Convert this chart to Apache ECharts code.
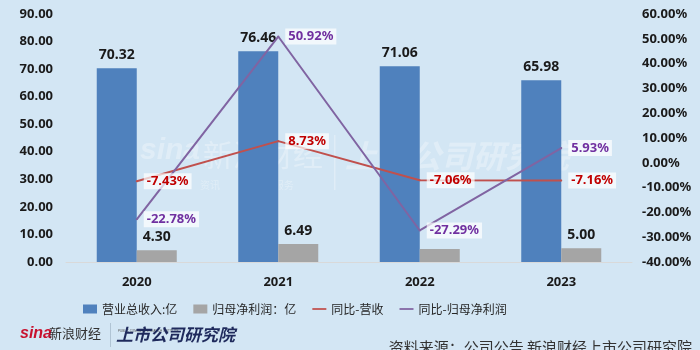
<!DOCTYPE html>
<html><head><meta charset="utf-8">
<script src="https://cdn.jsdelivr.net/npm/echarts@6/dist/echarts.min.js"></script>
<style>html,body{margin:0;padding:0;background:#d3e6f4;}#c{width:700px;height:350px;}</style>
</head><body><div id="c"></div>
<script>
const categories = ['2020', '2021', '2022', '2023'];
const revenue = [70.32, 76.46, 71.06, 65.98];
const netProfit = [4.30, 6.49, 4.72, 5.00];
const revenueYoY = [-7.43, 8.73, -7.06, -7.16];
const profitYoY = [-22.78, 50.92, -27.29, 5.93];
const seriesNames = ['营业总收入:亿', '归母净利润：亿', '同比-营收', '同比-归母净利润'];

const font = '"Noto Sans", "Liberation Sans", sans-serif';
const cjk = '"Noto Sans CJK SC", sans-serif';
const lblBox = {backgroundColor: 'rgba(255,255,255,0.7)', padding: [2, 3, 1, 3]};

const chart = echarts.init(document.getElementById('c'));
chart.setOption({
  backgroundColor: '#d3e6f4',
  animation: false,
  grid: {left: 66, right: 68, top: 14, bottom: 88},
  legend: {
    left: 78, top: 298, itemGap: 16, itemWidth: 14, itemHeight: 9,
    textStyle: {fontFamily: cjk, fontSize: 12, color: '#262626'},
    data: [
      {name: seriesNames[0], icon: 'rect'},
      {name: seriesNames[1], icon: 'rect'},
      {name: seriesNames[2], icon: 'path://M0,0h16v2h-16z'},
      {name: seriesNames[3], icon: 'path://M0,0h16v2h-16z'}
    ]
  },
  xAxis: {
    type: 'category', data: categories,
    axisLine: {lineStyle: {color: '#d9d9d9'}},
    axisTick: {show: false},
    axisLabel: {fontFamily: font, fontWeight: 'bold', fontSize: 13, color: '#1a1a1a', margin: 14}
  },
  yAxis: [
    {type: 'value', min: 0, max: 90, interval: 10,
     splitLine: {show: false}, axisLine: {show: false}, axisTick: {show: false},
     axisLabel: {fontFamily: font, fontWeight: 'bold', fontSize: 13, color: '#1a1a1a', margin: 13,
       formatter: v => v.toFixed(2)}},
    {type: 'value', min: -40, max: 60, interval: 10,
     splitLine: {show: false}, axisLine: {show: false}, axisTick: {show: false},
     axisLabel: {fontFamily: font, fontWeight: 'bold', fontSize: 13, color: '#1a1a1a', margin: 10,
       formatter: v => v.toFixed(2) + '%'}}
  ],
  series: [
    {name: seriesNames[0], type: 'bar', data: revenue, barWidth: 40, barGap: '0%',
     itemStyle: {color: '#4f81bd'},
     label: {show: true, position: 'top', fontFamily: font, fontWeight: 'bold', fontSize: 14, color: '#1a1a1a', distance: 6,
       formatter: p => p.value.toFixed(2)}},
    {name: seriesNames[1], type: 'bar', data: netProfit.map((v, i) => i === 2 ? {value: v, label: {show: false}} : v),
     barWidth: 40, itemStyle: {color: '#a5a5a5'},
     label: {show: true, position: 'top', fontFamily: font, fontWeight: 'bold', fontSize: 14, color: '#1a1a1a', distance: 6,
       formatter: p => p.value.toFixed(2)}},
    {name: seriesNames[2], type: 'line', yAxisIndex: 1, data: revenueYoY,
     symbol: 'circle', symbolSize: 2, lineStyle: {color: '#c0504d', width: 2}, itemStyle: {color: '#c0504d'},
     label: Object.assign({show: true, position: 'right', distance: 6, fontFamily: font, fontWeight: 'bold', fontSize: 13, color: '#c00000',
       formatter: p => p.value.toFixed(2) + '%'}, lblBox)},
    {name: seriesNames[3], type: 'line', yAxisIndex: 1, data: profitYoY,
     symbol: 'circle', symbolSize: 2, lineStyle: {color: '#8064a2', width: 2}, itemStyle: {color: '#8064a2'},
     label: Object.assign({show: true, position: 'right', distance: 6, fontFamily: font, fontWeight: 'bold', fontSize: 13, color: '#7030a0',
       formatter: p => p.value.toFixed(2) + '%'}, lblBox)}
  ],
  graphic: [
    {type: 'text', left: 140, top: 136, style: {text: 'sina', font: 'italic bold 30px "Liberation Sans"', fill: 'rgba(255,255,255,0.3)'}},
    {type: 'text', left: 203, top: 140, style: {text: '新浪财经', font: '30px "Noto Sans CJK SC"', fill: 'rgba(255,255,255,0.3)'}},
    {type: 'text', left: 200, top: 180, style: {text: '资讯                        服务', font: '10px "Noto Sans CJK SC"', fill: 'rgba(255,255,255,0.3)'}},
    {type: 'rect', left: 334, top: 135, shape: {width: 1.5, height: 55}, style: {fill: 'rgba(255,255,255,0.3)'}},
    {type: 'text', left: 345, top: 140, style: {text: '上市公司研究院', font: 'italic bold 32px "Noto Sans CJK SC"', fill: 'rgba(255,255,255,0.3)'}},
    {type: 'text', left: 20, top: 326, style: {text: 'sina', font: 'italic bold 16px "Liberation Sans"', fill: '#c8102e'}},
    {type: 'text', left: 49, top: 327, style: {text: '新浪财经', font: '13px "Noto Sans CJK SC"', fill: '#333'}},
    {type: 'rect', left: 110, top: 323, shape: {width: 1, height: 24}, style: {fill: '#b0c4d4'}},
    {type: 'text', left: 118, top: 330, style: {text: 'PUBLIC COMPANY RESEARCH INSTITUTE', font: '3px sans-serif', fill: '#555'}},
    {type: 'text', left: 116, top: 326, style: {text: '上市公司研究院', font: 'italic bold 17px "Noto Sans CJK SC"', fill: '#1f2a5c'}},
    {type: 'text', right: 8, top: 340, style: {text: '资料来源：公司公告 新浪财经上市公司研究院', font: '15px "Noto Sans CJK SC"', fill: '#333'}}
  ]
});
</script></body></html>
